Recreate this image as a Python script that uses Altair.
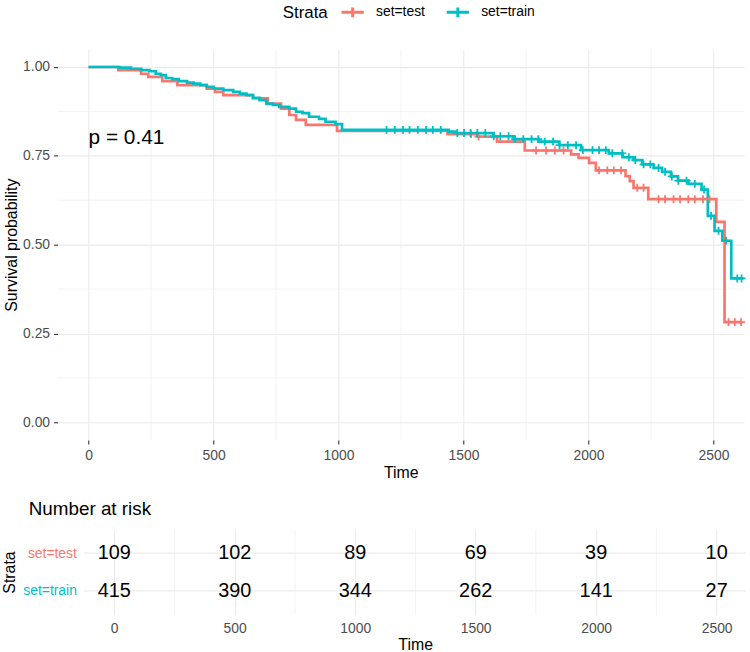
import altair as alt
import numpy as np
import pandas as pd

FONT = "Liberation Sans"
STRATA = ["set=test", "set=train"]
COLORS = ["#F8766D", "#00BFC4"]

# Kaplan-Meier step estimates (time at which each step starts, survival after it)
test_times = [0, 119, 210, 239, 295, 355, 473, 506, 539, 658, 717, 770, 803, 830, 869, 994,
              1436, 1555, 1634, 1745, 1930, 1960, 2002, 2029, 2148, 2165, 2180, 2239, 2511, 2544]
test_surv = [1.0, 0.991, 0.981, 0.972, 0.960, 0.949, 0.939, 0.930, 0.921, 0.912, 0.897, 0.883,
             0.865, 0.851, 0.837, 0.820, 0.811, 0.804, 0.790, 0.765, 0.754, 0.744, 0.730, 0.709,
             0.693, 0.679, 0.660, 0.628, 0.564, 0.282]
test_last = 2615

train_times = [0, 124, 170, 210, 243, 269, 289, 309, 335, 361, 394, 420, 447, 473, 500, 539,
               579, 605, 632, 658, 684, 711, 737, 763, 803, 830, 856, 882, 922, 948, 988, 1014,
               1440, 1470, 1620, 1700, 1800, 1883, 1970, 2081, 2136, 2180, 2215, 2260, 2294,
               2330, 2358, 2400, 2452, 2477, 2504, 2535, 2571]
train_surv = [1.0, 0.998, 0.995, 0.991, 0.988, 0.981, 0.977, 0.969, 0.966, 0.960, 0.956, 0.953,
              0.949, 0.944, 0.939, 0.935, 0.930, 0.925, 0.921, 0.913, 0.907, 0.897, 0.893, 0.888,
              0.883, 0.874, 0.870, 0.860, 0.854, 0.846, 0.839, 0.823, 0.818, 0.814, 0.805, 0.797,
              0.790, 0.780, 0.766, 0.757, 0.746, 0.738, 0.726, 0.716, 0.705, 0.692, 0.680, 0.671,
              0.655, 0.581, 0.539, 0.511, 0.405]
train_last = 2620

# censoring times
test_censor = [1530, 1560, 1790, 1830, 1865, 1900, 2042, 2075, 2101, 2130, 2195, 2220, 2280,
               2306, 2340, 2366, 2399, 2425, 2458, 2484, 2560, 2585, 2610]
train_censor = [1192, 1225, 1258, 1284, 1317, 1350, 1377, 1409, 1475, 1502, 1528, 1555, 1587,
                1621, 1647, 1680, 1706, 1739, 1772, 1799, 1825, 1858, 1884, 1917, 1950, 1977,
                2016, 2042, 2069, 2095, 2135, 2161, 2187, 2220, 2247, 2280, 2306, 2333, 2359,
                2392, 2425, 2462, 2490, 2520, 2550, 2595, 2612]

# number at risk
risk_times = [0, 500, 1000, 1500, 2000, 2500]
risk_test = [109, 102, 89, 69, 39, 10]
risk_train = [415, 390, 344, 262, 141, 27]

p_label = "p = 0.41"

# ---- tables ----
curves = []
censors = []
for name, times, surv, last, cens in [
    ("set=test", test_times, test_surv, test_last, test_censor),
    ("set=train", train_times, train_surv, train_last, train_censor),
]:
    t = list(times) + [last]
    s = list(surv) + [surv[-1]]
    curves.append(pd.DataFrame({"time": t, "surv": s, "strata": name}))
    idx = np.searchsorted(np.array(times), np.array(cens), side="right") - 1
    censors.append(pd.DataFrame({"time": cens, "surv": np.array(surv)[idx], "strata": name}))
curve_df = pd.concat(curves, ignore_index=True)
censor_df = pd.concat(censors, ignore_index=True)

risk_df = pd.concat([
    pd.DataFrame({"time": risk_times, "n": risk_test, "strata": "set=test"}),
    pd.DataFrame({"time": risk_times, "n": risk_train, "strata": "set=train"}),
], ignore_index=True)

major_x = [0, 500, 1000, 1500, 2000, 2500]
minor_x = [250, 750, 1250, 1750, 2250]
minor_y = [0.125, 0.375, 0.625, 0.875]
X_DOMAIN = [-124, 2622]

x_scale = alt.Scale(domain=X_DOMAIN, nice=False, zero=False)
y_scale = alt.Scale(domain=[-0.05, 1.05], nice=False, zero=False)
color_scale = alt.Scale(domain=STRATA, range=COLORS)

GRID = "#EBEBEB"

# legend key: a short line crossed by a censoring tick
legend = alt.Legend(
    orient="none", legendX=227, legendY=-46, direction="horizontal",
    title="Strata", titleOrient="left", titleFontSize=17, titleFontWeight="normal",
    titleColor="black", titleFont=FONT, titlePadding=16,
    labelFontSize=14, labelFont=FONT, labelColor="black", labelOffset=15,
    symbolType="M-1.6,0H1.6M0,-0.7V0.7", symbolSize=196, symbolStrokeWidth=3,
    columnPadding=15,
)

x_axis = alt.Axis(
    title="Time", values=major_x, format="d", grid=True, gridColor=GRID, gridWidth=1.1,
    domain=False, ticks=True, tickSize=4, tickColor="#333333", tickWidth=1.1,
    labelFont=FONT, labelFontSize=14, labelColor="#4D4D4D", labelPadding=5,
    titleFont=FONT, titleFontSize=16, titleFontWeight="normal", titleColor="black",
    titlePadding=2,
)
y_axis = alt.Axis(
    title="Survival probability", values=[0, 0.25, 0.5, 0.75, 1.0], format=".2f",
    grid=True, gridColor=GRID, gridWidth=1.1, domain=False, ticks=True, tickSize=4,
    tickColor="#333333", tickWidth=1.1, labelFont=FONT, labelFontSize=14,
    labelColor="#4D4D4D", labelPadding=4, titleFont=FONT, titleFontSize=16,
    titleFontWeight="normal", titleColor="black", titlePadding=3,
)

X = lambda f: alt.X(f, scale=x_scale, axis=x_axis)
Y = lambda f: alt.Y(f, scale=y_scale, axis=y_axis)

# minor grid lines, drawn beneath the curves
minor_vx = alt.Chart(pd.DataFrame({"time": minor_x})).mark_rule(
    color=GRID, strokeWidth=0.6
).encode(x=X("time:Q"))
minor_hy = alt.Chart(pd.DataFrame({"surv": minor_y})).mark_rule(
    color=GRID, strokeWidth=0.6
).encode(y=Y("surv:Q"))

lines = alt.Chart(curve_df).mark_line(interpolate="step-after", strokeWidth=2.7).encode(
    x=X("time:Q"),
    y=Y("surv:Q"),
    color=alt.Color("strata:N", scale=color_scale, legend=legend),
)

censor_marks = alt.Chart(censor_df).mark_point(
    shape="M-1,0H1M0,-1V1", size=64, filled=False, strokeWidth=1.8, opacity=1
).encode(
    x=X("time:Q"),
    y=Y("surv:Q"),
    color=alt.Color("strata:N", scale=color_scale, legend=legend),
)

ptext = alt.Chart(pd.DataFrame({"time": [0], "surv": [0.80], "label": [p_label]})).mark_text(
    align="left", baseline="middle", fontSize=21, font=FONT, color="black"
).encode(x=X("time:Q"), y=Y("surv:Q"), text="label:N")

main = alt.layer(minor_vx, minor_hy, lines, censor_marks, ptext).properties(
    width=692, height=394
)

# ---- risk table ----
# the table's panel starts further right than the survival panel, to leave room
# for the stratum labels
R_LEFT, R_RIGHT = 27, 694
rx_scale = alt.Scale(domain=X_DOMAIN, range=[R_LEFT, R_RIGHT], nice=False, zero=False)
ry_scale = alt.Scale(type="point", domain=STRATA, padding=0.63)
label_color = {"condition": {"test": "datum.value === 'set=test'", "value": COLORS[0]},
               "value": COLORS[1]}

rx_axis = alt.Axis(
    title="Time", values=risk_times, format="d", grid=True, gridColor=GRID,
    gridWidth=1.1, domain=False, ticks=False, labelFont=FONT, labelFontSize=14,
    labelColor="#4D4D4D", labelPadding=7, titleFont=FONT, titleFontSize=16,
    titleFontWeight="normal", titleColor="black", titlePadding=1,
    titleX=(R_LEFT + R_RIGHT) / 2,
)
ry_axis = alt.Axis(
    title="Strata", grid=False, domain=False, ticks=False, offset=-R_LEFT,
    labelFont=FONT, labelFontSize=14, labelColor=label_color, labelPadding=8,
    titleFont=FONT, titleFontSize=16, titleFontWeight="normal", titleColor="black",
    titlePadding=5,
)

risk_minor = alt.Chart(pd.DataFrame({"time": minor_x})).mark_rule(
    color=GRID, strokeWidth=0.6
).encode(x=alt.X("time:Q", scale=rx_scale, axis=rx_axis))

risk_rows = alt.Chart(pd.DataFrame({"strata": STRATA})).mark_rule(
    color=GRID, strokeWidth=1.1
).encode(
    y=alt.Y("strata:N", sort=STRATA, scale=ry_scale, axis=ry_axis),
    x=alt.datum(X_DOMAIN[0], scale=rx_scale, axis=rx_axis),
    x2=alt.datum(X_DOMAIN[1]),
)

risk_text = alt.Chart(risk_df).mark_text(fontSize=20, font=FONT, color="black").encode(
    x=alt.X("time:Q", scale=rx_scale, axis=rx_axis),
    y=alt.Y("strata:N", sort=STRATA, scale=ry_scale, axis=ry_axis),
    text="n:Q",
)

risk = alt.layer(risk_minor, risk_rows, risk_text).properties(
    width=694, height=86,
    title=alt.Title("Number at risk", anchor="start", fontSize=19, fontWeight="normal",
                    font=FONT, color="black", offset=10, dx=R_LEFT),
)

chart = alt.vconcat(main, risk, spacing=19).properties(
    padding={"left": 1, "top": 1, "right": 0, "bottom": 0},
    background="white",
).configure_view(stroke=None)

chart.save("out.html", embed_options={"renderer": "svg", "actions": False})
